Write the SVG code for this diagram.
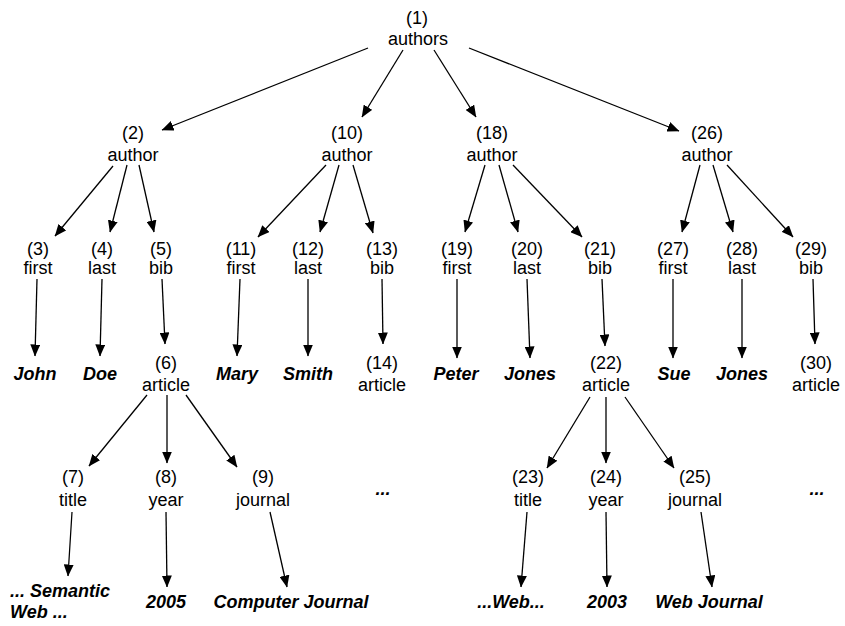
<svg xmlns="http://www.w3.org/2000/svg" width="845" height="626" viewBox="0 0 845 626">
  <defs>
    <marker id="ah" viewBox="0 0 12 10" refX="11.5" refY="5" markerWidth="12" markerHeight="10" markerUnits="userSpaceOnUse" orient="auto">
      <path d="M0,0 L12,5 L0,10 z" fill="#000"/>
    </marker>
    <style>
      text { font-family: "Liberation Sans", Arial, Helvetica, sans-serif; font-size: 18px; fill: #000; text-anchor: middle; }
      text.v { font-weight: bold; font-style: italic; }
      text.l { text-anchor: start; }
      #edges line { stroke: #000; stroke-width: 1.3; marker-end: url(#ah); }
    </style>
  </defs>
  <rect width="845" height="626" fill="#fff"/>

  <!-- element tree edges -->
  <g id="edges">
    <line x1="368" y1="48" x2="162" y2="130"/>
    <line x1="403" y1="50" x2="362" y2="117"/>
    <line x1="434" y1="50" x2="476" y2="117"/>
    <line x1="469" y1="48" x2="679" y2="131"/>

    <line x1="113" y1="166" x2="55" y2="236"/>
    <line x1="127" y1="165" x2="110" y2="232"/>
    <line x1="139" y1="165" x2="154" y2="232"/>
    <line x1="326" y1="165" x2="258" y2="237"/>
    <line x1="339" y1="165" x2="320" y2="232"/>
    <line x1="353" y1="165" x2="373" y2="233"/>
    <line x1="485" y1="165" x2="465" y2="232"/>
    <line x1="499" y1="165" x2="518" y2="232"/>
    <line x1="513" y1="165" x2="582" y2="237"/>
    <line x1="700" y1="165" x2="682" y2="232"/>
    <line x1="713" y1="165" x2="733" y2="232"/>
    <line x1="727" y1="165" x2="793" y2="237"/>

    <line x1="37" y1="279" x2="35" y2="356"/>
    <line x1="102" y1="279" x2="100" y2="356"/>
    <line x1="162" y1="279" x2="165" y2="344"/>
    <line x1="240" y1="279" x2="237" y2="356"/>
    <line x1="308" y1="279" x2="308" y2="356"/>
    <line x1="382" y1="279" x2="383" y2="344"/>
    <line x1="457" y1="279" x2="457" y2="358"/>
    <line x1="527" y1="279" x2="530" y2="358"/>
    <line x1="602" y1="279" x2="605" y2="346"/>
    <line x1="673" y1="279" x2="673" y2="358"/>
    <line x1="742" y1="279" x2="742" y2="358"/>
    <line x1="813" y1="279" x2="815" y2="344"/>

    <line x1="147" y1="395" x2="89" y2="466"/>
    <line x1="167" y1="395" x2="167" y2="463"/>
    <line x1="186" y1="395" x2="237" y2="467"/>
    <line x1="590" y1="397" x2="547" y2="468"/>
    <line x1="606" y1="397" x2="606" y2="463"/>
    <line x1="625" y1="397" x2="674" y2="468"/>

    <line x1="72" y1="512" x2="68" y2="576"/>
    <line x1="166" y1="512" x2="167" y2="587"/>
    <line x1="270" y1="512" x2="287" y2="587"/>
    <line x1="527" y1="512" x2="521" y2="587"/>
    <line x1="606" y1="512" x2="607" y2="587"/>
    <line x1="701" y1="512" x2="712" y2="587"/>
  </g>

  <!-- root -->
  <g id="n1"><text x="417" y="24">(1)</text><text x="418" y="45">authors</text></g>

  <!-- author elements -->
  <g id="n2"><text x="133" y="139">(2)</text><text x="133" y="161">author</text></g>
  <g id="n10"><text x="347" y="139">(10)</text><text x="347" y="161">author</text></g>
  <g id="n18"><text x="492" y="139">(18)</text><text x="492" y="161">author</text></g>
  <g id="n26"><text x="707" y="139">(26)</text><text x="707" y="161">author</text></g>

  <!-- first / last / bib -->
  <g id="n3"><text x="38" y="255">(3)</text><text x="38" y="274">first</text></g>
  <g id="n4"><text x="102" y="255">(4)</text><text x="102" y="274">last</text></g>
  <g id="n5"><text x="161" y="255">(5)</text><text x="161" y="274">bib</text></g>
  <g id="n11"><text x="241" y="255">(11)</text><text x="241" y="274">first</text></g>
  <g id="n12"><text x="308" y="255">(12)</text><text x="308" y="274">last</text></g>
  <g id="n13"><text x="382" y="255">(13)</text><text x="382" y="274">bib</text></g>
  <g id="n19"><text x="457" y="255">(19)</text><text x="457" y="274">first</text></g>
  <g id="n20"><text x="527" y="255">(20)</text><text x="527" y="274">last</text></g>
  <g id="n21"><text x="600" y="255">(21)</text><text x="600" y="274">bib</text></g>
  <g id="n27"><text x="673" y="255">(27)</text><text x="673" y="274">first</text></g>
  <g id="n28"><text x="742" y="255">(28)</text><text x="742" y="274">last</text></g>
  <g id="n29"><text x="811" y="255">(29)</text><text x="811" y="274">bib</text></g>

  <!-- name values and article elements -->
  <g id="v-john"><text class="v" x="35" y="380">John</text></g>
  <g id="v-doe"><text class="v" x="100" y="380">Doe</text></g>
  <g id="n6"><text x="166" y="369">(6)</text><text x="166" y="391">article</text></g>
  <g id="v-mary"><text class="v" x="237" y="380">Mary</text></g>
  <g id="v-smith"><text class="v" x="308" y="380">Smith</text></g>
  <g id="n14"><text x="382" y="369">(14)</text><text x="382" y="391">article</text></g>
  <g id="v-peter"><text class="v" x="456" y="380">Peter</text></g>
  <g id="v-jones1"><text class="v" x="530" y="380">Jones</text></g>
  <g id="n22"><text x="606" y="369">(22)</text><text x="606" y="391">article</text></g>
  <g id="v-sue"><text class="v" x="674" y="380">Sue</text></g>
  <g id="v-jones2"><text class="v" x="742" y="380">Jones</text></g>
  <g id="n30"><text x="816" y="369">(30)</text><text x="816" y="391">article</text></g>

  <!-- article children -->
  <g id="n7"><text x="73" y="483">(7)</text><text x="73" y="506">title</text></g>
  <g id="n8"><text x="166" y="483">(8)</text><text x="166" y="506">year</text></g>
  <g id="n9"><text x="263" y="483">(9)</text><text x="263" y="506">journal</text></g>
  <g id="more1"><text class="v" x="383" y="495">...</text></g>
  <g id="n23"><text x="528" y="483">(23)</text><text x="528" y="506">title</text></g>
  <g id="n24"><text x="606" y="483">(24)</text><text x="606" y="506">year</text></g>
  <g id="n25"><text x="695" y="483">(25)</text><text x="695" y="506">journal</text></g>
  <g id="more2"><text class="v" x="817" y="495">...</text></g>

  <!-- text values -->
  <g id="v-title1"><text class="v l" x="10" y="597">... Semantic</text><text class="v l" x="10" y="618">Web ...</text></g>
  <g id="v-year1"><text class="v" x="166" y="608">2005</text></g>
  <g id="v-journal1"><text class="v" x="291" y="608">Computer Journal</text></g>
  <g id="v-title2"><text class="v" x="511" y="608">...Web...</text></g>
  <g id="v-year2"><text class="v" x="607" y="608">2003</text></g>
  <g id="v-journal2"><text class="v" x="709" y="608">Web Journal</text></g>
</svg>
